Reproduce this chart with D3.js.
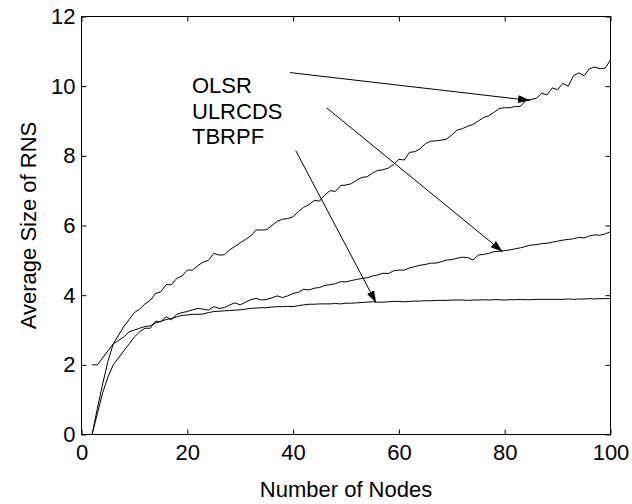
<!DOCTYPE html>
<html>
<head>
<meta charset="utf-8">
<script src="https://d3js.org/d3.v7.min.js"></script>
<style>
  body { margin: 0; background: #fff; }
  svg { display: block; font-family: "Liberation Sans", Arial, sans-serif; }
  .axis path { display: none; }
  .axis line { stroke: #000; stroke-width: 1; }
  .axis text { font-size: 22px; fill: #000; }
</style>
</head>
<body>
<div id="viz"></div>
<script>
// number of nodes on the x axis, 2..100
var nodes = d3.range(2, 101);

var olsr = [
  0, 0.75, 1.45, 2.1, 2.6, 2.85, 3.1, 3.3, 3.5, 3.6,
  3.75, 3.85, 4.05, 4.1, 4.3, 4.3, 4.48, 4.55, 4.72, 4.72,
  4.85, 4.95, 5.0, 5.2, 5.15, 5.16, 5.3, 5.4, 5.5, 5.6,
  5.7, 5.87, 5.87, 5.88, 6.0, 6.12, 6.18, 6.2, 6.25, 6.4,
  6.52, 6.6, 6.72, 6.7, 6.88, 7.0, 6.98, 7.15, 7.16, 7.2,
  7.3, 7.38, 7.4, 7.5, 7.58, 7.6, 7.65, 7.75, 7.9, 7.88,
  8.1, 8.12, 8.2, 8.35, 8.42, 8.43, 8.45, 8.48, 8.6, 8.74,
  8.78, 8.85, 8.9, 9.0, 9.1, 9.15, 9.25, 9.36, 9.38, 9.38,
  9.42, 9.42, 9.6, 9.62, 9.65, 9.8, 9.75, 9.95, 9.9, 10.08,
  10.0, 10.3, 10.38, 10.3, 10.5, 10.55, 10.5, 10.52, 10.75
];

var ulrcds = [
  0, 0.6, 1.2, 1.65, 2.0, 2.2, 2.4, 2.6, 2.8, 2.95,
  3.05, 3.05, 3.25, 3.24, 3.38, 3.29, 3.45, 3.5, 3.53, 3.58,
  3.62, 3.6, 3.57, 3.67, 3.62, 3.64, 3.72, 3.78, 3.72, 3.8,
  3.87, 3.91, 3.86, 3.88, 3.92, 3.98, 3.93, 3.98, 4.05, 4.08,
  4.17, 4.15, 4.2, 4.22, 4.28, 4.3, 4.33, 4.39, 4.38, 4.42,
  4.45, 4.48, 4.5, 4.55, 4.58, 4.63, 4.62, 4.7, 4.72, 4.72,
  4.78, 4.82, 4.86, 4.88, 4.92, 4.92, 4.96, 5.01, 5.02, 5.06,
  5.09, 5.08, 5.01, 5.15, 5.17, 5.2, 5.25, 5.26, 5.28, 5.3,
  5.33, 5.36, 5.4, 5.44, 5.45, 5.48, 5.49, 5.52, 5.55, 5.58,
  5.6, 5.62, 5.66, 5.64, 5.7, 5.73, 5.72, 5.76, 5.82
];

var tbrpf = [
  2.0, 2.0, 2.2, 2.4, 2.6, 2.7, 2.8, 2.95, 3.0, 3.05,
  3.1, 3.12, 3.2, 3.25, 3.3, 3.33, 3.38, 3.42, 3.43, 3.45,
  3.45, 3.46, 3.5, 3.53, 3.54, 3.55, 3.56, 3.57, 3.58, 3.6,
  3.62, 3.63, 3.64, 3.64, 3.66, 3.67, 3.67, 3.68, 3.67, 3.7,
  3.72, 3.74, 3.74, 3.75, 3.75, 3.75, 3.76, 3.75, 3.77, 3.77,
  3.78, 3.79, 3.8, 3.81, 3.8, 3.8, 3.81, 3.82, 3.82, 3.81,
  3.82, 3.83, 3.83, 3.84, 3.84, 3.85, 3.85, 3.85, 3.86, 3.86,
  3.86, 3.85, 3.86, 3.86, 3.87, 3.86, 3.87, 3.87, 3.86, 3.87,
  3.87, 3.88, 3.87, 3.87, 3.88, 3.88, 3.88, 3.88, 3.88, 3.88,
  3.89, 3.88, 3.89, 3.89, 3.9, 3.89, 3.9, 3.9, 3.91
];

var labels = ["OLSR", "ULRCDS", "TBRPF"];
var xTicks = [0, 20, 40, 60, 80, 100];
var yTicks = [0, 2, 4, 6, 8, 10, 12];

// arrow start / end points, in data units
var arrowFrom = [[39.4, 10.39], [46.4, 9.37], [40.5, 8.15]];
var arrowTo = [[84.8, 9.59], [79.6, 5.25], [55.7, 3.78]];

var width = 632, height = 504;
var mLeft = 81.5, mRight = 610.5, mTop = 16.5, mBottom = 434.5;

var svg = d3.select("#viz").append("svg")
    .attr("width", width)
    .attr("height", height);

svg.append("rect").attr("width", width).attr("height", height).attr("fill", "#fff");

var x = d3.scaleLinear().domain([0, 100]).range([mLeft, mRight]);
var y = d3.scaleLinear().domain([0, 12]).range([mBottom, mTop]);

// axes, ticks pointing inwards
svg.append("g").attr("class", "axis")
  .attr("transform", "translate(0," + mBottom + ")")
  .call(d3.axisBottom(x).tickValues(xTicks).tickSizeInner(-5).tickSizeOuter(0).tickPadding(10));

svg.append("g").attr("class", "axis")
  .attr("transform", "translate(0," + mTop + ")")
  .call(d3.axisTop(x).tickValues(xTicks).tickSizeInner(-5).tickSizeOuter(0).tickFormat(""));

svg.append("g").attr("class", "axis")
  .attr("transform", "translate(" + mLeft + ",0)")
  .call(d3.axisLeft(y).tickValues(yTicks).tickSizeInner(-5).tickSizeOuter(0).tickPadding(6));

svg.append("g").attr("class", "axis")
  .attr("transform", "translate(" + mRight + ",0)")
  .call(d3.axisRight(y).tickValues(yTicks).tickSizeInner(-5).tickSizeOuter(0).tickFormat(""));

svg.append("rect")
  .attr("x", mLeft).attr("y", mTop)
  .attr("width", mRight - mLeft).attr("height", mBottom - mTop)
  .attr("fill", "none").attr("stroke", "#000").attr("stroke-width", 1);

// curves
var line = d3.line()
  .x(function (d, i) { return x(nodes[i]); })
  .y(function (d) { return y(d); });

[olsr, ulrcds, tbrpf].forEach(function (s) {
  svg.append("path")
    .attr("d", line(s))
    .attr("fill", "none")
    .attr("stroke", "#000")
    .attr("stroke-width", 1);
});

// arrows
svg.append("defs").append("marker")
  .attr("id", "head")
  .attr("markerUnits", "userSpaceOnUse")
  .attr("markerWidth", 13).attr("markerHeight", 9)
  .attr("refX", 12).attr("refY", 4.5)
  .attr("orient", "auto")
  .append("path")
  .attr("d", "M0,0.5L12,4.5L0,8.5Z")
  .attr("fill", "#000");

arrowFrom.forEach(function (a, i) {
  svg.append("line")
    .attr("x1", x(a[0])).attr("y1", y(a[1]))
    .attr("x2", x(arrowTo[i][0])).attr("y2", y(arrowTo[i][1]))
    .attr("stroke", "#000")
    .attr("stroke-width", 1)
    .attr("marker-end", "url(#head)");
});

// text labels
labels.forEach(function (t, i) {
  svg.append("text")
    .attr("x", 192)
    .attr("y", 93 + i * 25.5)
    .attr("font-size", 22)
    .text(t);
});

svg.append("text")
  .attr("x", (mLeft + mRight) / 2)
  .attr("y", 497)
  .attr("text-anchor", "middle")
  .attr("font-size", 22)
  .text("Number of Nodes");

svg.append("text")
  .attr("transform", "translate(36," + (mTop + mBottom) / 2 + ") rotate(-90)")
  .attr("text-anchor", "middle")
  .attr("font-size", 22)
  .text("Average Size of RNS");
</script>
</body>
</html>
